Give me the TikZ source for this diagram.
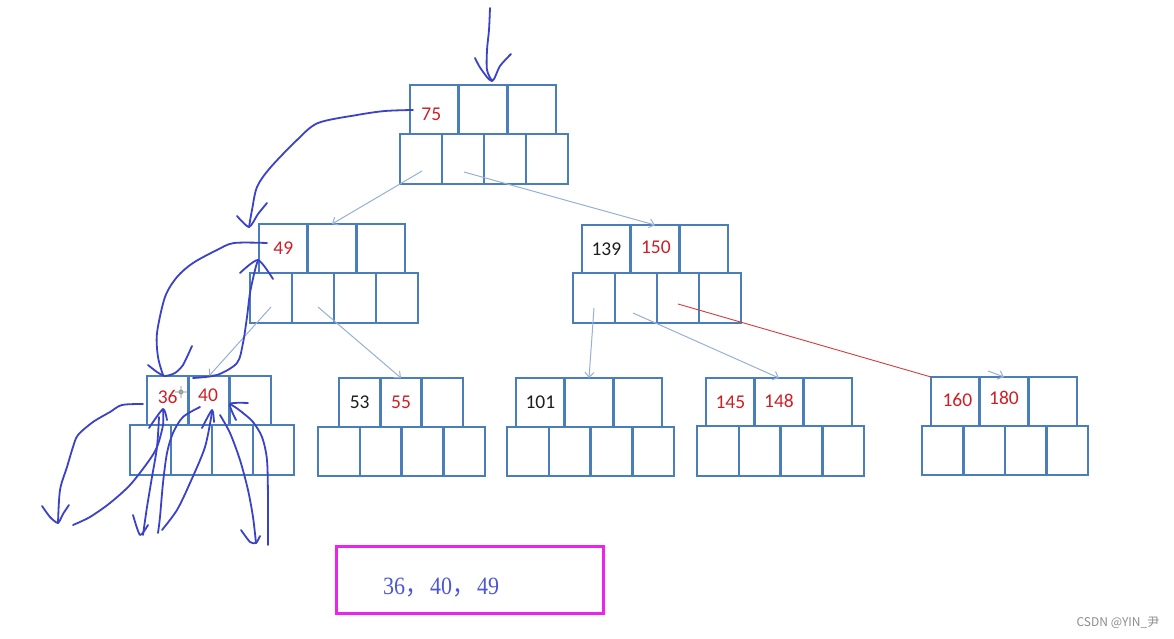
\documentclass[tikz,border=0pt]{standalone}
\usepackage{fontspec}
\setmainfont{Carlito}
\newfontfamily\cjkf{Noto Sans CJK SC}
\newfontfamily\sernum{Liberation Serif}
\usetikzlibrary{arrows.meta,calc}
\definecolor{boxblue}{RGB}{74,126,187}
\definecolor{linkblue}{RGB}{150,176,214}
\definecolor{keyred}{RGB}{205,32,38}
\definecolor{keyblack}{RGB}{30,30,30}
\definecolor{scribble}{RGB}{58,66,200}
\definecolor{linkred}{RGB}{210,60,60}
\definecolor{boxmag}{RGB}{238,34,238}
\definecolor{restext}{RGB}{78,86,212}
\tikzset{
  cellbox/.style={draw=boxblue,line width=2.5pt,inner sep=0pt,outer sep=0pt},
  kred/.style={text=keyred,font=\fontsize{19.5}{21}\selectfont,inner sep=0pt},
  kblack/.style={text=keyblack,font=\fontsize{19.5}{21}\selectfont,inner sep=0pt},
  conn/.style={draw=linkblue,line width=1pt,-{Straight Barb[length=5pt,width=9pt]}},
  scrib/.style={draw=scribble,line width=1.8pt,line cap=round,line join=round},
}
\newcommand\btnode[8]{%
  \pgfmathsetmacro\kw{(#3-#2)/3}%
  \pgfmathsetmacro\kh{#5-#4}%
  \pgfmathsetmacro\pw{(#7-#6)/4}%
  \pgfmathsetmacro\ph{#8-#5}%
  \pgfmathsetmacro\ky{(#4+#5)/2}%
  \pgfmathsetmacro\py{(#5+#8)/2}%
  \foreach \i in {1,2,3}{%
    \node[cellbox,minimum width=\kw pt,minimum height=\kh pt] (#1-k\i) at ({#2+(\i-0.5)*\kw},\ky) {};}%
  \foreach \i in {1,...,4}{%
    \node[cellbox,minimum width=\pw pt,minimum height=\ph pt] (#1-p\i) at ({#6+(\i-0.5)*\pw},\py) {};}%
}
\begin{document}
\begin{tikzpicture}[x=1pt,y=-1pt]
\fill[white] (0,0) rectangle (1174,639);
\useasboundingbox (0,0) rectangle (1174,639);

% B-tree nodes
\btnode{R}{410}{556}{85}{134}{400}{568}{184}
\btnode{L}{259}{405}{224}{273}{250}{418}{323}
\btnode{Q}{582}{728}{225}{273}{573}{741}{323}
\btnode{A}{147}{271}{376}{425}{130}{294}{475}
\btnode{B}{339}{463}{378}{427}{318}{485}{476}
\btnode{C}{516}{662}{378}{427}{507}{674}{476}
\btnode{D}{706}{852}{378}{426}{697}{864}{476}
\btnode{E}{931}{1077}{377}{426}{922}{1088}{475}

% keys
\node[kred]   (t75)  at ($(R-k1)+(-3,5)$) {75};
\node[kred]   (t49)  at (L-k1) {49};
\node[kblack] (t139) at (Q-k1) {139};
\node[kred]   (t150) at ($(Q-k1)+(49.5,-2)$) {150};
\node[kred]   (t36)  at ($(A-k1)+(0,-4)$) {36};
\node[kred]   (t40)  at ($(A-k2)+(-1,-5)$) {40};
\node[kblack] (t53)  at (B-k1) {53};
\node[kred]   (t55)  at (B-k2) {55};
\node[kblack] (t101) at (C-k1) {101};
\node[kred]   (t145) at (D-k1) {145};
\node[kred]   (t148) at ($(D-k2)+(0,-1)$) {148};
\node[kred]   (t160) at ($(E-k1)+(2,-2)$) {160};
\node[kred]   (t180) at ($(E-k2)+(0,-4)$) {180};

% tree links
\draw[conn] ($(R-p1.center)+(1,12)$) -- (L-k2.north);
\draw[conn] ($(R-p2.center)+(1,13)$) -- (Q-k2.north);
\draw[conn] ($(L-p1.center)+(0,9)$) -- (A-k2.north);
\draw[conn] ($(L-p2.center)+(5,9)$) -- (B-k2.north);
\draw[conn] ($(Q-p1.center)+(0,10)$) -- (C-k2.north);
\draw[conn] ($(Q-p2.center)+(-3,15)$) -- (D-k2.north);
\draw[draw=linkred,line width=0.9pt] ($(Q-p3.center)+(0,6)$) -- (E-k1.north west);
\coordinate (Ein) at ($(E-k2.north)+(-16,-6)$);
\draw[conn] (Ein) -- (E-k2.north);

% cursor mark
\draw[gray,line width=0.6pt] (181,392) circle (2) (175,392) -- (187,392) (181,386) -- (181,398);

% hand-drawn blue strokes
\draw[scrib] plot[smooth,tension=0.5] coordinates {(490,8) (489,30) (487,50) (487,70) (492,81)};
\draw[scrib] plot[smooth,tension=0.5] coordinates {(475,58) (481,69) (492,81) (500,66) (511,54)};

\draw[scrib] plot[smooth,tension=0.5] coordinates {(413,110) (385,111) (357,115) (318,123) (297,140) (270,168) (257,187) (252,210) (249,227)};
\draw[scrib] plot[smooth,tension=0.4] coordinates {(237,216) (249,227) (258,214) (267,203)};

\draw[scrib] plot[smooth,tension=0.5] coordinates {(267,243) (234,243) (217,250) (193,263) (177,277) (165,297) (157,333) (158,357) (163,375)};
\draw[scrib] plot[smooth,tension=0.4] coordinates {(148,365) (157,372) (165,376) (175,373) (183,365) (192,346)};

\draw[scrib] plot[smooth,tension=0.5] coordinates {(193,378) (217,375) (237,363) (243,343) (247,317) (250,293) (255,270) (258,260)};
\draw[scrib] plot[smooth,tension=0.4] coordinates {(240,273) (258,260) (273,279)};

\draw[scrib] plot[smooth,tension=0.5] coordinates {(143,404) (122,405) (110,412) (93,422) (78,435) (73,447) (67,467) (60,490) (58,523)};
\draw[scrib] plot[smooth,tension=0.4] coordinates {(42,506) (50,517) (58,523) (63,514) (69,505)};

\draw[scrib] plot[smooth,tension=0.5] coordinates {(73,525) (90,517) (110,503) (130,485) (148,462) (157,447) (163,425) (163,409)};
\draw[scrib] plot[smooth,tension=0.4] coordinates {(149,428) (163,409) (167,420)};

\draw[scrib] plot[smooth,tension=0.5] coordinates {(159,417) (157,447) (152,477) (147,507) (143,535)};
\draw[scrib] plot[smooth,tension=0.4] coordinates {(133,515) (140,535) (148,525)};

\draw[scrib] plot[smooth,tension=0.5] coordinates {(200,407) (183,417) (173,433) (167,453) (163,483) (160,517) (158,533)};

\draw[scrib] plot[smooth,tension=0.5] coordinates {(162,530) (177,510) (190,483) (205,447) (212,412)};
\draw[scrib] plot[smooth,tension=0.4] coordinates {(202,428) (212,410) (214,422)};

\draw[scrib] plot[smooth,tension=0.5] coordinates {(220,415) (230,433) (240,460) (248,490) (253,517) (256,543)};
\draw[scrib] plot[smooth,tension=0.4] coordinates {(241,530) (250,542) (256,543) (260,536)};

\draw[scrib] plot[smooth,tension=0.5] coordinates {(268,545) (268,500) (267,460) (262,437) (253,422) (243,413) (235,407) (230,404)};
\draw[scrib] plot[smooth,tension=0.4] coordinates {(248,403) (230,404) (236,420)};

% result box
\node[draw=boxmag,line width=3pt,minimum width=267pt,minimum height=67pt,inner sep=0pt] (res) at (469.5,579.5) {};
\node[text=restext,inner sep=0pt] (restxt) at (441,588) {\scalebox{1}[1.13]{\fontsize{22}{24}\selectfont\sernum 36{\cjkf ，}\hspace{3pt}40{\cjkf ，}\hspace{3pt}49}};

% watermark
\node[text=black!45,inner sep=0pt,font=\cjkf\fontsize{12}{14}\selectfont] (wm) at (1118,622.5) {CSDN @YIN\_尹};
\end{tikzpicture}
\end{document}
